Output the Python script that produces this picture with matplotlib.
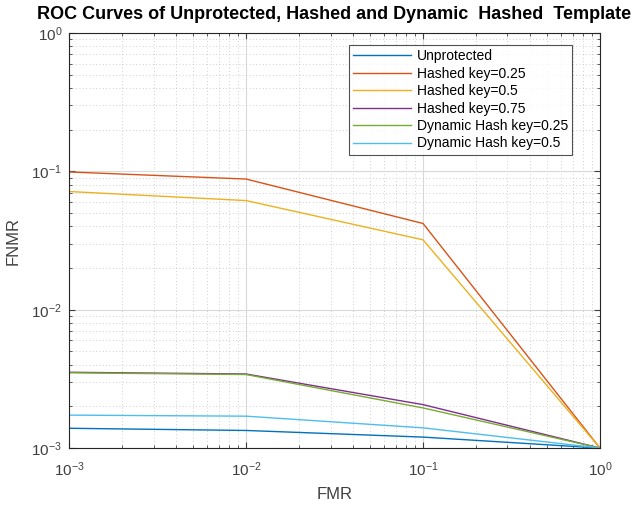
import matplotlib
matplotlib.use("Agg")
import matplotlib.pyplot as plt
import numpy as np

plt.rcParams['font.family'] = ['Liberation Sans', 'DejaVu Sans']
plt.rcParams['mathtext.fontset'] = 'custom'
plt.rcParams['mathtext.rm'] = 'Liberation Sans'
plt.rcParams['mathtext.it'] = 'Liberation Sans:italic'
plt.rcParams['mathtext.bf'] = 'Liberation Sans:bold'

fmr = [1e-3, 1e-2, 1e-1, 1e0]
unprotected = [0.00139, 0.00134, 0.00120, 0.001]
hashed_025 = [0.099, 0.088, 0.042, 0.001]
hashed_05 = [0.0715, 0.0615, 0.032, 0.001]
hashed_075 = [0.00353, 0.00343, 0.00206, 0.001]
dyn_025 = [0.00350, 0.00340, 0.00195, 0.001]
dyn_05 = [0.00173, 0.00170, 0.00140, 0.001]

labels = ["Unprotected", "Hashed key=0.25", "Hashed key=0.5", "Hashed key=0.75",
          "Dynamic Hash key=0.25", "Dynamic Hash key=0.5"]
series = [unprotected, hashed_025, hashed_05, hashed_075, dyn_025, dyn_05]
colors = ["#0072BD", "#D95319", "#EDB120", "#7E2F8E", "#77AC30", "#4DBEEE"]

fig = plt.figure(figsize=(6.4, 5.08), dpi=100)
ax = fig.add_axes([0.108, 0.118, 0.8295, 0.817])
for y, lab, c in zip(series, labels, colors):
    ax.plot(fmr, y, color=c, lw=1.0, label=lab)

ax.set_xscale('log')
ax.set_yscale('log')
ax.set_xlim(1e-3, 1)
ax.set_ylim(1e-3, 1)
ax.grid(True, which='major', color='#d9d9d9', lw=0.8, ls='-')
ax.grid(True, which='minor', color='#bfbfbf', lw=0.6, ls=(0, (1, 3)))
ax.tick_params(which='both', direction='in', top=True, right=True, labelsize=11, colors='#404040')
ax.tick_params(axis='x', which='major', pad=9)
ax.tick_params(axis='y', which='major', pad=5)
ax.tick_params(which='major', length=4)
ax.tick_params(which='minor', length=2)
for s in ax.spines.values():
    s.set_color('#262626')
    s.set_linewidth(0.8)
ax.set_xlabel('FMR', fontsize=12, color='#404040', labelpad=6)
ax.set_ylabel('FNMR', fontsize=12, color='#404040', labelpad=8)
ax.set_title('ROC Curves of Unprotected, Hashed and Dynamic  Hashed  Template',
             fontsize=13, fontweight='bold', pad=10)
leg = ax.legend(loc='upper right', bbox_to_anchor=(579/640, 1 - 38/508),
                bbox_transform=fig.transFigure, fontsize=10, frameon=True, fancybox=False,
                edgecolor='#262626', handlelength=4.2, borderpad=0.3, labelspacing=0.25,
                handletextpad=0.4)
leg.get_frame().set_linewidth(0.8)
fig.savefig('out.png', dpi=100)
